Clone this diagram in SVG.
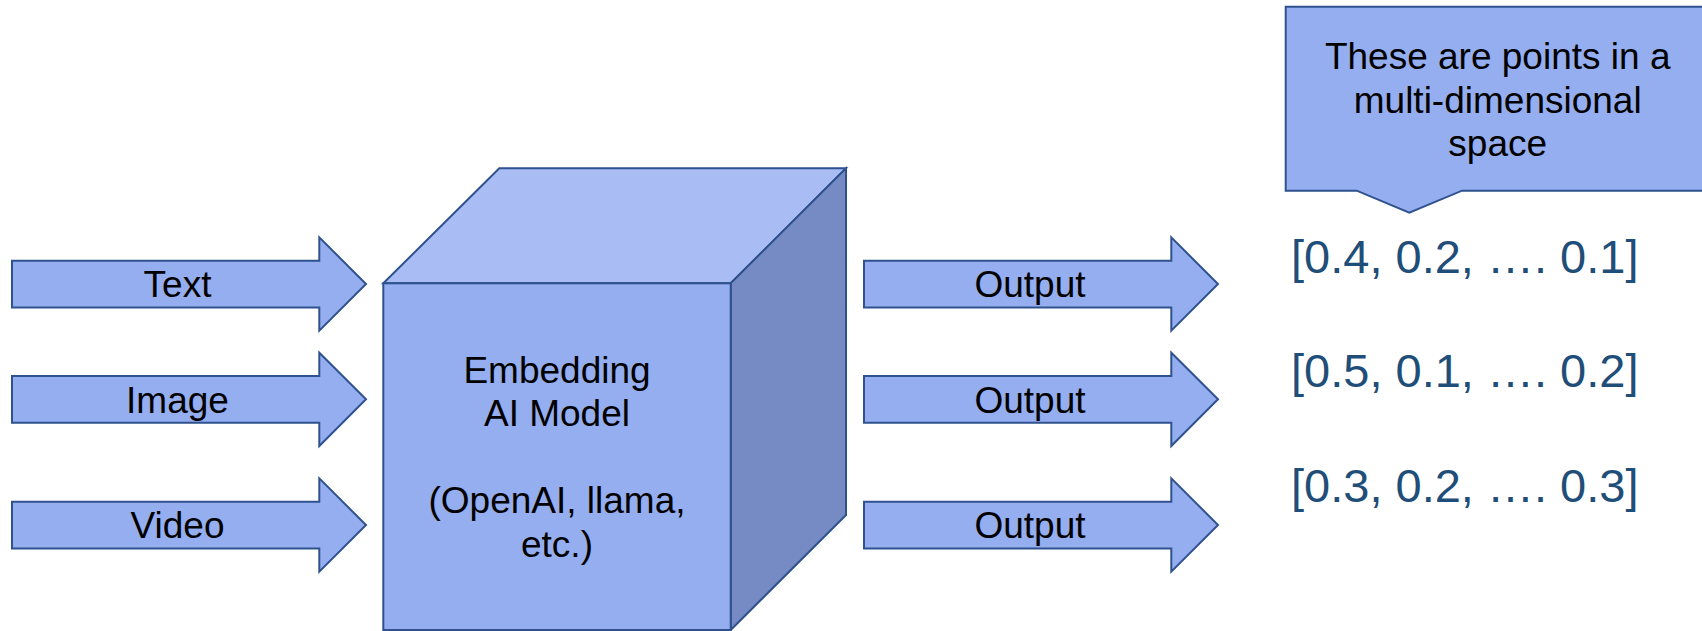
<svg xmlns="http://www.w3.org/2000/svg" width="1702" height="631" viewBox="0 0 1702 631">
<style>
.shape{fill:#95aef0;stroke:#2f528f;stroke-width:2;stroke-linejoin:miter}
.lbl{font-family:"Liberation Sans",Arial,sans-serif;font-size:37px;fill:#000;text-anchor:middle}
.vec{font-family:"Liberation Sans",Arial,sans-serif;font-size:47px;fill:#1f4e79}
</style>
<defs>
<path id="arr" d="M0,0 H307.3 V-23.3 L354,23.3 L307.3,70 V46.7 H0 Z"/>
</defs>
<rect width="1702" height="631" fill="#fff"/>
<g id="connectors">
<g id="in-text"><use href="#arr" class="shape" x="12" y="260.7"/><text class="lbl" x="177.5" y="297.3">Text</text></g>
<g id="in-image"><use href="#arr" class="shape" x="12" y="376"/><text class="lbl" x="177.5" y="412.7">Image</text></g>
<g id="in-video"><use href="#arr" class="shape" x="12" y="501.7"/><text class="lbl" x="177.5" y="537.7">Video</text></g>
<g id="out-1"><use href="#arr" class="shape" x="864" y="260.7"/><text class="lbl" x="1030" y="297.3">Output</text></g>
<g id="out-2"><use href="#arr" class="shape" x="864" y="376"/><text class="lbl" x="1030" y="412.7">Output</text></g>
<g id="out-3"><use href="#arr" class="shape" x="864" y="501.7"/><text class="lbl" x="1030" y="537.7">Output</text></g>
</g>
<g id="cube">
<polygon points="383.3,283.3 499.3,168.3 846,168.3 730.7,283.3" fill="#a9bdf4" stroke="#2f528f" stroke-width="2"/>
<polygon points="730.7,283.3 846,168.3 846,515 730.7,630" fill="#768bc3" stroke="#2f528f" stroke-width="2"/>
<rect x="383.3" y="283.3" width="347.4" height="346.7" class="shape"/>
<text class="lbl" x="557" y="382.5">Embedding</text>
<text class="lbl" x="557" y="425.5">AI Model</text>
<text class="lbl" x="557" y="513.3">(OpenAI, llama,</text>
<text class="lbl" x="557" y="557">etc.)</text>
</g>
<g id="callout">
<path class="shape" d="M1285.7,6.7 H1712 V190.7 H1462 L1409.3,212.7 L1356.7,190.7 H1285.7 Z"/>
<text class="lbl" x="1497.7" y="69">These are points in a</text>
<text class="lbl" x="1497.7" y="112.7">multi-dimensional</text>
<text class="lbl" x="1497.7" y="156">space</text>
</g>
<g id="vectors">
<text class="vec" x="1291" y="272.5">[0.4, 0.2, …. 0.1]</text>
<text class="vec" x="1291" y="387">[0.5, 0.1, …. 0.2]</text>
<text class="vec" x="1291" y="501.5">[0.3, 0.2, …. 0.3]</text>
</g>
</svg>
